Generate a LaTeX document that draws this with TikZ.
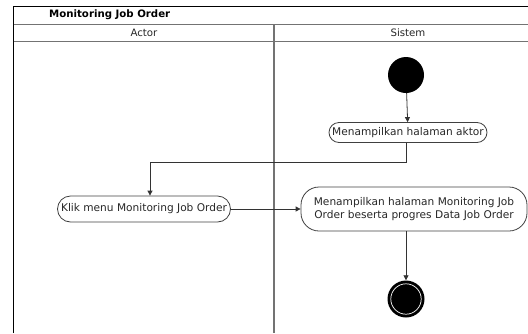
\documentclass[tikz,border=0pt]{standalone}
\usepackage{fontspec}
\setmainfont{DejaVu Sans}
\usetikzlibrary{arrows.meta}
\begin{document}
\begin{tikzpicture}[x=1pt,y=-1pt,
  lane/.style={draw=black!55,line width=1.6pt},
  rule/.style={draw=black!55,line width=1pt},
  act/.style={draw=black!75,line width=0.8pt,rounded corners=11pt,align=center,
    font=\fontsize{10.6}{12.5}\selectfont,text=black!85,inner sep=0pt},
  flow/.style={draw=black!80,line width=0.8pt,-{Triangle[length=5pt,width=5pt]}},
  link/.style={draw=black!80,line width=0.8pt}]
\useasboundingbox (0,0) rectangle (528,333);
% swimlane frame
\draw[black,line width=1pt] (13.5,333) -- (13.5,6.5) -- (542,6.5);
\draw[rule] (13.5,24) -- (542,24);
\draw[rule] (13.5,41) -- (542,41);
\draw[lane] (274,24) -- (274,333);
\node[font=\bfseries\fontsize{10.2}{11}\selectfont,anchor=west,inner sep=0pt] (title) at (49,15) {Monitoring Job Order};
\node[font=\fontsize{10.2}{11}\selectfont,text=black!85] (actor) at (144,32.5) {Actor};
\node[font=\fontsize{10.2}{11}\selectfont,text=black!85] (sistem) at (408,32.5) {Sistem};
% activities
\node[circle,fill=black,minimum size=36pt,inner sep=0pt] (start) at (406,75) {};
\node[act,minimum width=158pt,minimum height=20pt,rounded corners=10pt] (tampil) at (408,132.5) {Menampilkan halaman aktor};
\node[act,minimum width=173pt,minimum height=26pt,rounded corners=13pt] (klik) at (144,209) {Klik menu Monitoring Job Order};
\node[act,minimum width=226pt,minimum height=44pt,rounded corners=18pt] (monitor) at (414,209)
  {Menampilkan halaman Monitoring Job\\Order beserta progres Data Job Order};
\node[circle,fill=black,minimum size=37pt,inner sep=0pt] (finish) at (406,299) {};
\draw[white,line width=0.7pt] (finish) circle (15.2);
% flows
\coordinate (turn) at (150,162);
\draw[flow] (start) -- (tampil);
\draw[link] (tampil.south -| start) |- (turn);
\draw[flow] (turn) -- (turn |- klik.north);
\draw[flow] (klik) -- (monitor);
\draw[flow] (monitor.south -| finish) -- (finish);
\end{tikzpicture}
\end{document}
